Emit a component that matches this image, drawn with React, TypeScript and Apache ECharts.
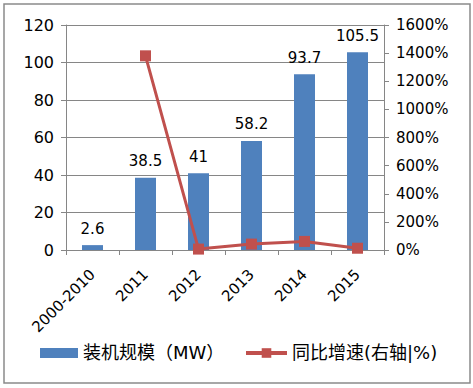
import React, { useEffect, useRef } from "react";
import * as echarts from "echarts";

const categories = ["2000-2010", "2011", "2012", "2013", "2014", "2015"];
const capacity = [2.6, 38.5, 41, 58.2, 93.7, 105.5];
const growth = [null, 1380.8, 6.5, 42.1, 61.0, 12.6];
const leftTicks = { min: 0, max: 120, interval: 20 };
const rightTicks = { min: 0, max: 1600, interval: 200 };

const FONT = "'DejaVu Sans', 'Noto Sans CJK SC', sans-serif";

export default function App() {
  const ref = useRef<HTMLDivElement>(null);
  useEffect(() => {
    if (!ref.current) return;
    const chart = echarts.init(ref.current, null, { renderer: "svg" });
    chart.setOption({
      animation: false,
      backgroundColor: "#ffffff",
      textStyle: { fontFamily: FONT, color: "#000" },
      graphic: [
        {
          type: "rect",
          shape: { x: 4, y: 4, width: 466, height: 379 },
          style: { fill: "none", stroke: "#8a8a8a", lineWidth: 1.5 },
          silent: true,
        },
      ],
      grid: { left: 66, right: 89, top: 25, bottom: 138 },
      legend: [
        {
          left: 40,
          top: 344,
          padding: 0,
          itemWidth: 38,
          itemHeight: 10,
          itemGap: 0,
          data: [{ name: "装机规模（MW）", icon: "rect" }],
          textStyle: { fontSize: 18, fontFamily: FONT, color: "#000" },
        },
        {
          left: 244,
          top: 344,
          padding: 0,
          itemWidth: 41,
          itemHeight: 12,
          lineStyle: { width: 4 },
          data: ["同比增速(右轴|%)"],
          textStyle: { fontSize: 18, fontFamily: FONT, color: "#000" },
        },
      ],
      xAxis: {
        type: "category",
        data: categories,
        axisLine: { lineStyle: { color: "#868686", width: 1 } },
        axisTick: { show: true, length: 5, lineStyle: { color: "#868686" } },
        axisLabel: { rotate: 45, fontSize: 15, color: "#000", margin: 22, fontFamily: FONT },
      },
      yAxis: [
        {
          type: "value",
          ...leftTicks,
          axisLine: { show: true, lineStyle: { color: "#868686" } },
          axisTick: { show: true, length: 5, lineStyle: { color: "#868686" } },
          axisLabel: { fontSize: 16, color: "#000", margin: 12, fontFamily: FONT },
          splitLine: { lineStyle: { color: "#868686", width: 1 } },
        },
        {
          type: "value",
          ...rightTicks,
          position: "right",
          axisLine: { show: true, lineStyle: { color: "#868686" } },
          axisTick: { show: true, length: 5, lineStyle: { color: "#868686" } },
          axisLabel: {
            fontSize: 15,
            color: "#000",
            margin: 12,
            formatter: (v: number) => `${v}%`,
            fontFamily: FONT,
          },
          splitLine: { show: false },
        },
      ],
      series: [
        {
          name: "装机规模（MW）",
          type: "bar",
          data: capacity,
          barWidth: 21,
          itemStyle: { color: "#4F81BD" },
          label: { show: true, position: "top", distance: 9, fontSize: 15, color: "#000", fontFamily: FONT },
        },
        {
          name: "同比增速(右轴|%)",
          type: "line",
          yAxisIndex: 1,
          data: growth,
          symbol: "rect",
          symbolSize: 11,
          lineStyle: { color: "#C0504D", width: 3 },
          itemStyle: { color: "#C0504D" },
        },
      ],
    });
    return () => chart.dispose();
  }, []);
  return (
    <div
      ref={ref}
      style={{ position: "fixed", left: 0, top: 0, width: 473, height: 388 }}
    />
  );
}
